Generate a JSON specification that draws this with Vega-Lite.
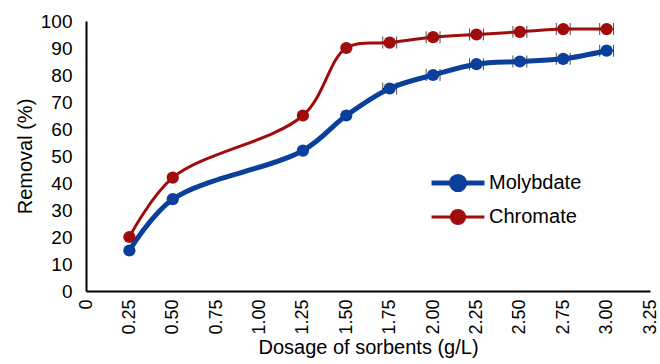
{
  "$schema": "https://vega.github.io/schema/vega-lite/v6.json",
  "autosize": "none",
  "width": 564,
  "height": 270,
  "padding": {"left": 86, "top": 21, "right": 10, "bottom": 73},
  "background": "white",
  "config": {
    "view": {"stroke": null},
    "font": "Liberation Sans"
  },
  "data": {
    "values": [
      {"dose": 0.25, "removal": 15, "sorbate": "Molybdate", "err": 0},
      {"dose": 0.5, "removal": 34, "sorbate": "Molybdate", "err": 0},
      {"dose": 1.25, "removal": 52, "sorbate": "Molybdate", "err": 0},
      {"dose": 1.5, "removal": 65, "sorbate": "Molybdate", "err": 0},
      {"dose": 1.75, "removal": 75, "sorbate": "Molybdate", "err": 0.04},
      {"dose": 2.0, "removal": 80, "sorbate": "Molybdate", "err": 0.04},
      {"dose": 2.25, "removal": 84, "sorbate": "Molybdate", "err": 0.04},
      {"dose": 2.5, "removal": 85, "sorbate": "Molybdate", "err": 0.04},
      {"dose": 2.75, "removal": 86, "sorbate": "Molybdate", "err": 0.04},
      {"dose": 3.0, "removal": 89, "sorbate": "Molybdate", "err": 0.04},
      {"dose": 0.25, "removal": 20, "sorbate": "Chromate", "err": 0},
      {"dose": 0.5, "removal": 42, "sorbate": "Chromate", "err": 0},
      {"dose": 1.25, "removal": 65, "sorbate": "Chromate", "err": 0},
      {"dose": 1.5, "removal": 90, "sorbate": "Chromate", "err": 0},
      {"dose": 1.75, "removal": 92, "sorbate": "Chromate", "err": 0.04},
      {"dose": 2.0, "removal": 94, "sorbate": "Chromate", "err": 0.04},
      {"dose": 2.25, "removal": 95, "sorbate": "Chromate", "err": 0.04},
      {"dose": 2.5, "removal": 96, "sorbate": "Chromate", "err": 0.04},
      {"dose": 2.75, "removal": 97, "sorbate": "Chromate", "err": 0.04},
      {"dose": 3.0, "removal": 97, "sorbate": "Chromate", "err": 0.04}
    ]
  },
  "encoding": {
    "x": {
      "field": "dose", "type": "quantitative",
      "scale": {"domain": [0, 3.25], "nice": false, "zero": true},
      "axis": {
        "title": "Dosage of sorbents (g/L)",
        "values": [0, 0.25, 0.5, 0.75, 1, 1.25, 1.5, 1.75, 2, 2.25, 2.5, 2.75, 3, 3.25],
        "labelExpr": "datum.value == 0 ? '0' : format(datum.value, '.2f')",
        "labelAngle": -90,
        "labelAlign": "right",
        "labelBaseline": "middle",
        "labelFontSize": 18,
        "labelColor": "black",
        "labelPadding": 8,
        "ticks": false,
        "grid": false,
        "domainColor": "black",
        "domainWidth": 2,
        "titleFontSize": 20,
        "titleFontWeight": "normal",
        "titleColor": "black",
        "titlePadding": 3
      }
    },
    "y": {
      "field": "removal", "type": "quantitative",
      "scale": {"domain": [0, 100], "nice": false},
      "axis": {
        "title": "Removal (%)",
        "values": [0, 10, 20, 30, 40, 50, 60, 70, 80, 90, 100],
        "labelFontSize": 19,
        "labelColor": "black",
        "labelPadding": 14,
        "ticks": false,
        "grid": false,
        "domainColor": "black",
        "domainWidth": 2,
        "titleFontSize": 20,
        "titleFontWeight": "normal",
        "titleColor": "black",
        "titlePadding": 5
      }
    },
    "color": {
      "field": "sorbate", "type": "nominal",
      "scale": {"domain": ["Molybdate", "Chromate"], "range": ["#0a3f9c", "#a00b0b"]},
      "legend": {
        "title": null,
        "orient": "none",
        "legendX": 356,
        "legendY": 146,
        "labelFontSize": 20,
        "labelColor": "black",
        "symbolType": "M-2,0L-0.5,0M0.5,0L2,0M-0.5,0A0.5,0.5,0,1,1,0.5,0A0.5,0.5,0,1,1,-0.5,0Z",
        "symbolSize": 700,
        "symbolStrokeWidth": 4,
        "rowPadding": 2,
        "labelOffset": 15,
        "encode": {
          "symbols": {"update": {
            "fill": {"scale": "color", "field": "value"},
            "strokeWidth": {"signal": "datum.value === 'Molybdate' ? 5 : 3"}
          }}
        }
      }
    }
  },
  "layer": [
    {
      "transform": [{"filter": "datum.err > 0"}],
      "mark": {"type": "errorbar", "ticks": {"size": 12, "color": "black", "thickness": 1}, "rule": {"color": "black", "strokeWidth": 1}},
      "encoding": {
        "xError": {"field": "err"},
        "color": {"value": "black"}
      }
    },
    {
      "mark": {"type": "line", "interpolate": "catmull-rom"},
      "encoding": {
        "strokeWidth": {
          "field": "sorbate", "type": "nominal",
          "scale": {"domain": ["Molybdate", "Chromate"], "range": [5, 3]},
          "legend": null
        }
      }
    },
    {
      "mark": {"type": "point", "filled": true, "opacity": 1, "size": 150, "shape": "circle"}
    }
  ]
}
